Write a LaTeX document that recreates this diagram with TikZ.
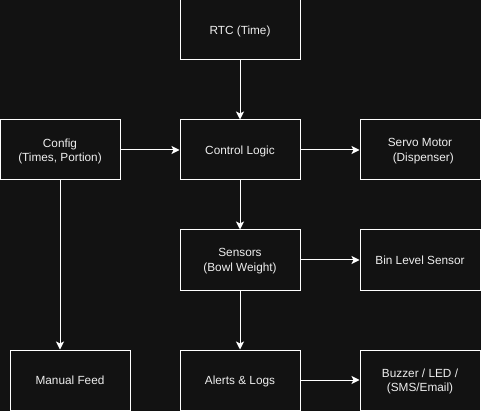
\documentclass[tikz,border=0pt]{standalone}
\usepackage{fontspec}
\setmainfont{Liberation Sans}
\usetikzlibrary{arrows.meta}
\definecolor{bgcol}{HTML}{121212}
\definecolor{txtcol}{HTML}{EEEEEE}
\tikzset{
	box/.style={draw=white, fill=bgcol, text=txtcol, line width=1pt, minimum width=120pt, minimum height=60pt, align=center, inner sep=0pt, text depth=0pt, font=\fontsize{11.8}{14.5}\selectfont},
	link/.style={draw=white, line width=1pt, -{Stealth[length=8pt,width=8pt,inset=2pt]}}
}
\begin{document}
\begin{tikzpicture}[x=1pt,y=-1pt]
	\fill[bgcol] (0,0) rectangle (481,411) ;
	\useasboundingbox (0,0) rectangle (481,411) ;
		\node (rtc)[box] at (240,30) {RTC (Time)} ; 
		\node (cfg)[box] at (60,150) {Config\\(Times, Portion)} ; 
		\node (ctl)[box] at (240,150) {Control Logic} ; 
		\node (servo)[box] at (420,150) {Servo Motor\\\ \ (Dispenser)} ; 
		\node (sens)[box] at (240,260) {Sensors\\(Bowl Weight)} ; 
		\node (bin)[box] at (420,260) {Bin Level Sensor} ; 
		\node (man)[box] at (70,380) {Manual Feed} ; 
		\node (alert)[box] at (240,380) {Alerts \& Logs} ; 
		\node (buzz)[box] at (420,380) {Buzzer / LED /\\(SMS/Email)} ; 
	\draw[link] (rtc) -- (ctl) ;
	\draw[link] (cfg) -- (ctl) ;
	\draw[link] (ctl) -- (servo) ;
	\draw[link] (ctl) -- (sens) ;
	\draw[link] (sens) -- (bin) ;
	\draw[link] (sens) -- (alert) ;
	\draw[link] (alert) -- (buzz) ;
	\draw[link] (cfg.south) -- (cfg.south |- man.north) ;
\end{tikzpicture}
\end{document}
